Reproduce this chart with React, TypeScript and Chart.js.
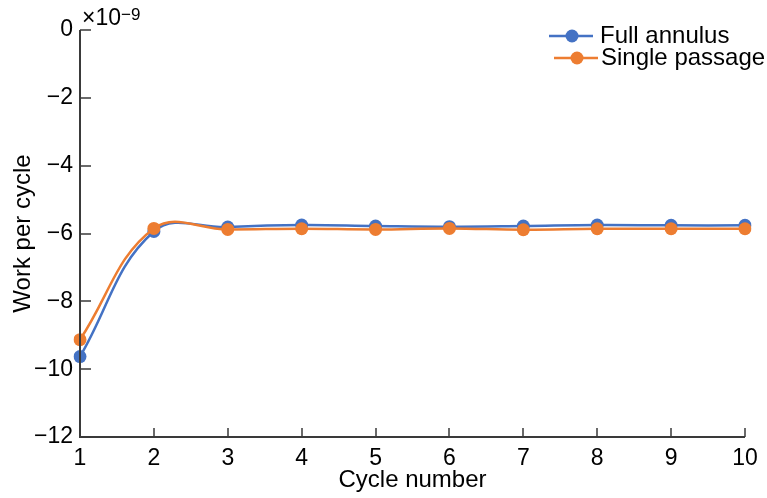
import React, { useEffect, useRef } from "react";
import { Chart, registerables } from "chart.js";

Chart.register(...registerables);

// Cycle index on the x axis
const cycles = ["1", "2", "3", "4", "5", "6", "7", "8", "9", "10"];

// Work per cycle, in units of 1e-9
const fullAnnulus = [-9.63, -5.94, -5.81, -5.75, -5.78, -5.8, -5.78, -5.75, -5.76, -5.76];
const singlePassage = [-9.13, -5.85, -5.88, -5.86, -5.88, -5.85, -5.89, -5.86, -5.86, -5.86];

const yTicks = [-12, -10, -8, -6, -4, -2, 0];
const seriesNames = ["Full annulus", "Single passage"];
const seriesColors = ["#4472C4", "#ED7D31"];

const FONT = "'Liberation Sans', Arial, Helvetica, sans-serif";
const AXIS_COLOR = "#3a3a3a";

const minusSign = (v: number) => (v < 0 ? "\u2212" + Math.abs(v) : String(v));

// Axis lines with inward-pointing tick marks, the exponent label and the legend
const decorations = {
  id: "decorations",
  afterDraw(chart: any) {
    const { ctx, chartArea, scales } = chart;
    const xs = scales.x;
    const ys = scales.y;
    ctx.save();
    ctx.strokeStyle = AXIS_COLOR;
    ctx.lineWidth = 2;
    ctx.lineCap = "butt";
    ctx.beginPath();
    ctx.moveTo(chartArea.left, chartArea.top);
    ctx.lineTo(chartArea.left, chartArea.bottom);
    ctx.lineTo(chartArea.right, chartArea.bottom);
    ctx.stroke();

    ctx.lineWidth = 1.5;
    ctx.beginPath();
    yTicks.forEach((v) => {
      const py = Math.round(ys.getPixelForValue(v));
      ctx.moveTo(chartArea.left, py);
      ctx.lineTo(chartArea.left + 11, py);
    });
    cycles.forEach((_, i) => {
      const px = Math.round(xs.getPixelForValue(i));
      ctx.moveTo(px, chartArea.bottom);
      ctx.lineTo(px, chartArea.bottom - 9);
    });
    ctx.stroke();

    // ×10^-9 multiplier
    ctx.fillStyle = "#000";
    ctx.textBaseline = "alphabetic";
    ctx.textAlign = "left";
    ctx.font = `23px ${FONT}`;
    const base = "\u00d710";
    ctx.fillText(base, chartArea.left + 2, 25);
    const bw = ctx.measureText(base).width;
    ctx.font = `17px ${FONT}`;
    ctx.fillText("\u22129", chartArea.left + 2 + bw, 20);

    // Legend: line with a centred marker, then the series name
    const rows = [
      { y: 36, x0: 549, x1: 593, cx: 572, tx: 600 },
      { y: 58, x0: 554, x1: 598, cx: 577, tx: 601 },
    ];
    rows.forEach((r, i) => {
      ctx.strokeStyle = seriesColors[i];
      ctx.lineWidth = 2.5;
      ctx.beginPath();
      ctx.moveTo(r.x0, r.y);
      ctx.lineTo(r.x1, r.y);
      ctx.stroke();
      ctx.fillStyle = seriesColors[i];
      ctx.beginPath();
      ctx.arc(r.cx, r.y, 6.5, 0, Math.PI * 2);
      ctx.fill();
      ctx.fillStyle = "#000";
      ctx.font = `24px ${FONT}`;
      ctx.textBaseline = "middle";
      ctx.fillText(seriesNames[i], r.tx, r.y);
    });
    ctx.restore();
  },
};

export default function App() {
  const canvasRef = useRef<HTMLCanvasElement | null>(null);

  useEffect(() => {
    if (!canvasRef.current) return;
    const series = [fullAnnulus, singlePassage];
    const chart = new Chart(canvasRef.current, {
      type: "line",
      data: {
        labels: cycles,
        datasets: series.map((values, i) => ({
          label: seriesNames[i],
          data: values,
          borderColor: seriesColors[i],
          backgroundColor: seriesColors[i],
          pointBackgroundColor: seriesColors[i],
          pointBorderWidth: 0,
          pointRadius: 6.5,
          borderWidth: 2.5,
          tension: 0.4,
          fill: false,
          order: i === 0 ? 1 : 0,
        })),
      },
      options: {
        animation: false,
        responsive: false,
        maintainAspectRatio: false,
        layout: { padding: { left: 0, top: 30, right: 22, bottom: 0 } },
        plugins: {
          legend: { display: false },
          tooltip: { enabled: false },
        },
        scales: {
          x: {
            type: "category",
            offset: false,
            grid: { display: false, drawTicks: false },
            border: { display: false },
            ticks: {
              color: "#000",
              padding: 8,
              maxRotation: 0,
              font: { family: FONT, size: 23 },
            },
            title: {
              display: true,
              text: "Cycle number",
              color: "#000",
              padding: { top: 0, bottom: 3 },
              font: { family: FONT, size: 24 },
            },
            afterFit: (scale: any) => {
              scale.height = 61;
            },
          },
          y: {
            min: -12,
            max: 0,
            grid: { display: false, drawTicks: false },
            border: { display: false },
            ticks: {
              stepSize: 2,
              color: "#000",
              padding: 7,
              font: { family: FONT, size: 23 },
              callback: (v: any) => minusSign(Number(v)),
            },
            title: {
              display: true,
              text: "Work per cycle",
              color: "#000",
              padding: { top: 9, bottom: 0 },
              font: { family: FONT, size: 24 },
            },
            afterFit: (scale: any) => {
              scale.width = 80;
            },
          },
        },
      },
      plugins: [decorations],
    });
    return () => chart.destroy();
  }, []);

  return (
    <div style={{ position: "absolute", left: 0, top: 0, width: 767, height: 498, background: "#fff" }}>
      <canvas ref={canvasRef} width={767} height={498} style={{ display: "block" }} />
    </div>
  );
}
